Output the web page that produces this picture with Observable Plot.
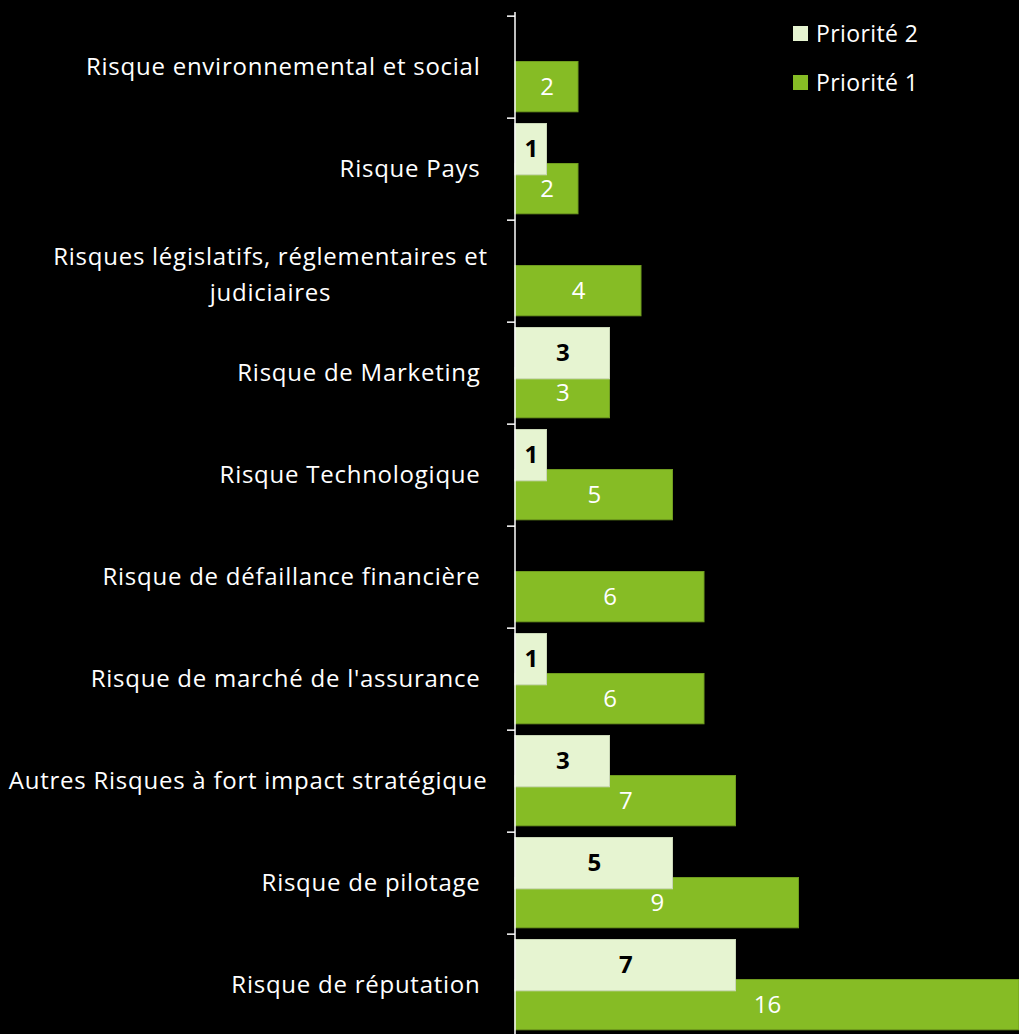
<!DOCTYPE html>
<html>
<head>
<meta charset="utf-8">
<script src="https://cdn.jsdelivr.net/npm/d3@7"></script>
<script src="https://cdn.jsdelivr.net/npm/@observablehq/plot@0.6"></script>
<style>
  html, body { margin: 0; padding: 0; background: #000; overflow: hidden; }
  #wrap { position: relative; width: 1019px; height: 1034px; overflow: hidden; }
  #wrap svg text { white-space: pre; }
  #wrap svg g.cat text { letter-spacing: 0.75px; }
  .legend { position: absolute; left: 793px; font-family: "Open Sans", sans-serif; font-size: 23px; letter-spacing: 0.4px; color: #fff; display: flex; align-items: center; }
  .legend .sw { width: 15px; height: 15px; margin-right: 8px; }
</style>
</head>
<body>
<div id="wrap"></div>
<script>
// Categories, top to bottom (trailing spaces as in the original labels)
const categories = [
  "Risque environnemental et social ",
  "Risque Pays ",
  "Risques législatifs, réglementaires et judiciaires",
  "Risque de Marketing ",
  "Risque Technologique ",
  "Risque de défaillance financière ",
  "Risque de marché de l'assurance ",
  "Autres Risques à fort impact stratégique",
  "Risque de pilotage ",
  "Risque de réputation "
];
// Tick labels as displayed (wrapped label uses a line break)
const tickLabels = [
  "Risque environnemental et social ",
  "Risque Pays ",
  "Risques législatifs, réglementaires et\njudiciaires",
  "Risque de Marketing ",
  "Risque Technologique ",
  "Risque de défaillance financière ",
  "Risque de marché de l'assurance ",
  "Autres Risques à fort impact stratégique",
  "Risque de pilotage ",
  "Risque de réputation "
];
const priorite1 = [2, 2, 4, 3, 5, 6, 6, 7, 9, 16];
const priorite2 = [null, 1, null, 3, 1, null, 1, 3, 5, 7];
const seriesNames = ["Priorité 2", "Priorité 1"];
const colors = {"Priorité 1": "#86bc25", "Priorité 2": "#e6f4d1"};

const p1 = categories.map((c, i) => ({cat: c, value: priorite1[i], label: tickLabels[i]}));
const p2 = categories.map((c, i) => ({cat: c, value: priorite2[i]})).filter(d => d.value != null);

const H = 1040, MT = 12, MB = 1;
const band = (H - MT - MB) / categories.length;
const font = "'Open Sans', sans-serif";

const chart = Plot.plot({
  width: 1019,
  height: H,
  marginLeft: 515,
  marginRight: 0,
  marginTop: MT,
  marginBottom: MB,
  style: {background: "#000", color: "#fff", fontFamily: font, overflow: "visible"},
  x: {domain: [0, 16], axis: null},
  y: {domain: categories, padding: 0, axis: null},
  marks: [
    // Priorité 1 bars (lower, drawn first)
    Plot.barX(p1, {x: "value", y: "cat", fill: colors["Priorité 1"], stroke: "#6f9c1f", strokeWidth: 1,
      insetTop: 45.5, insetBottom: band - 96.5}),
    // Priorité 2 bars (upper, drawn on top)
    Plot.barX(p2, {x: "value", y: "cat", fill: colors["Priorité 2"], stroke: "#c9d6b6", strokeWidth: 1,
      insetTop: 5.5, insetBottom: band - 57.5}),
    // value labels
    Plot.text(p1, {x: d => d.value / 2, y: "cat", text: d => String(d.value), fill: "#fff",
      fontSize: 24, dy: (45.5 + 96.5) / 2 - band / 2}),
    Plot.text(p2, {x: d => d.value / 2, y: "cat", text: d => String(d.value), fill: "#000",
      fontSize: 24, fontWeight: "bold", dy: (5.5 + 57.5) / 2 - band / 2}),
    // y axis line
    Plot.ruleX([0], {stroke: "#fff", strokeWidth: 1.5, dx: -0.5}),
    // tick marks at band boundaries
    Plot.ruleY(categories, {y: d => d, x1: 0, x2: 0, dy: -band / 2, insetLeft: -8, stroke: "#fff", strokeWidth: 1.5}),
    // category labels (single line)
    Plot.text(p1.filter(d => !d.label.includes("\n")), {y: "cat", x: 0, text: "label", dx: -28, textAnchor: "end",
      fill: "#fff", fontSize: 24, className: "cat"}),
    // wrapped category labels (centered block)
    Plot.text(p1.filter(d => d.label.includes("\n")), {y: "cat", x: 0, text: "label", dx: -245, textAnchor: "middle",
      fill: "#fff", fontSize: 24, lineHeight: 1.5, className: "cat"})
  ]
});

const wrap = document.getElementById("wrap");
wrap.appendChild(chart);

// legend overlay
seriesNames.forEach((name, i) => {
  const item = document.createElement("div");
  item.className = "legend";
  item.style.top = (17 + i * 49) + "px";
  const sw = document.createElement("div");
  sw.className = "sw";
  sw.style.background = colors[name];
  const tx = document.createElement("span");
  tx.textContent = name;
  item.appendChild(sw);
  item.appendChild(tx);
  wrap.appendChild(item);
});
</script>
</body>
</html>
